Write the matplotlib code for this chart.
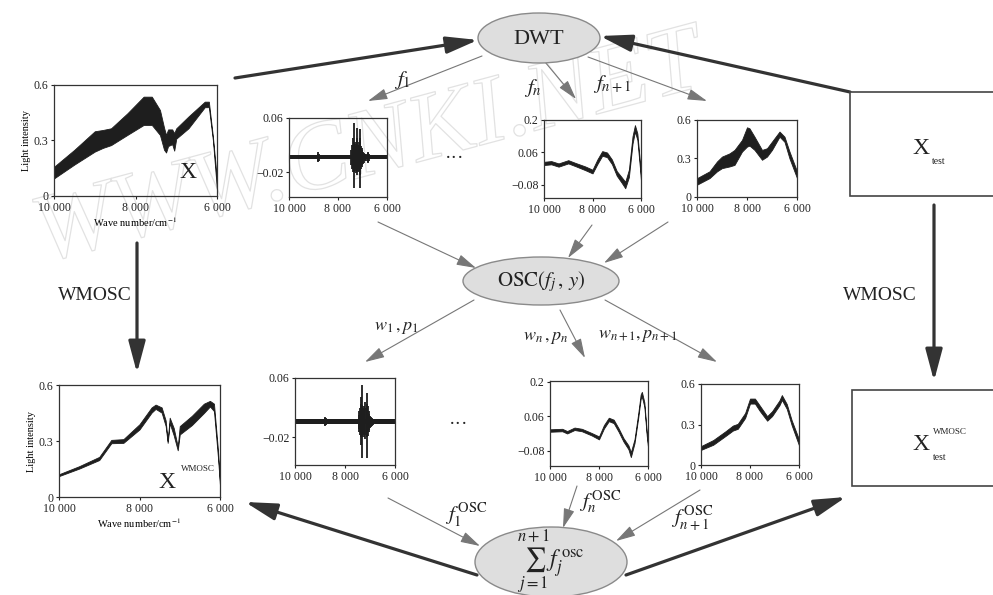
import matplotlib
matplotlib.use("Agg")
import matplotlib.pyplot as plt
from matplotlib.patches import Ellipse, Rectangle
import matplotlib.patheffects as pe

plt.rcParams['font.family'] = ['Liberation Serif', 'DejaVu Serif']
plt.rcParams['mathtext.fontset'] = 'stix'

W, H = 993, 595

# ---------------- data ----------------
xticks = [10000, 8000, 6000]
xtick_labels = ['10 000', '8 000', '6 000']

# X (raw spectra) band
x_wn = [10000, 9500, 9000, 8800, 8600, 8200, 7800, 7600, 7400, 7300, 7250, 7200, 7100, 7050, 7000, 6700, 6300, 6200, 6100, 6000]
x_hi = [0.158, 0.25, 0.35, 0.357, 0.366, 0.447, 0.537, 0.537, 0.465, 0.37, 0.33, 0.36, 0.36, 0.34, 0.366, 0.43, 0.51, 0.51, 0.32, 0.086]
x_lo = [0.095, 0.17, 0.24, 0.26, 0.275, 0.33, 0.384, 0.384, 0.33, 0.25, 0.235, 0.27, 0.28, 0.245, 0.31, 0.366, 0.48, 0.48, 0.30, 0.03]

# X^WMOSC band
xw_wn = [10000, 9500, 9000, 8700, 8400, 8000, 7700, 7600, 7450, 7350, 7300, 7250, 7150, 7050, 7000, 6700, 6400, 6250, 6150, 6050, 6000]
xw_hi = [0.122, 0.165, 0.215, 0.306, 0.31, 0.39, 0.48, 0.495, 0.48, 0.41, 0.30, 0.425, 0.37, 0.27, 0.38, 0.435, 0.50, 0.515, 0.50, 0.25, 0.08]
xw_lo = [0.112, 0.152, 0.198, 0.288, 0.29, 0.362, 0.452, 0.472, 0.452, 0.38, 0.29, 0.395, 0.33, 0.25, 0.335, 0.385, 0.45, 0.485, 0.46, 0.21, 0.06]

# f1 detail coefficients (top: DWT, bottom: after OSC)
f1_base_wn = [10000, 6000]
f1_base_lo = [-0.0012, -0.0012]
f1_base_hi = [0.0052, 0.0052]
f1_spk_wn = [8835, 8812, 8790, 7450, 7420, 7395, 7370, 7352, 7335, 7310, 7285, 7260, 7235, 7215, 7190, 7165, 7140, 7120, 7106, 7090, 7065, 7040, 7010, 6980, 6950, 6900, 6840, 6780, 6765, 6750]
f1_spk_hi = [0.007, 0.009, 0.007, 0.012, 0.02, 0.016, 0.03, 0.053, 0.025, 0.022, 0.018, 0.024, 0.03, 0.045, 0.02, 0.018, 0.024, 0.03, 0.043, 0.025, 0.018, 0.015, 0.012, 0.01, 0.008, 0.006, 0.006, 0.008, 0.009, 0.007]
f1_spk_lo = [-0.003, -0.005, -0.003, -0.01, -0.016, -0.014, -0.02, -0.044, -0.02, -0.018, -0.015, -0.022, -0.02, -0.025, -0.018, -0.016, -0.02, -0.025, -0.044, -0.02, -0.015, -0.012, -0.01, -0.008, -0.006, -0.004, -0.003, -0.005, -0.006, -0.004]

f1o_spk_wn = [8810, 8785, 8760, 7460, 7430, 7400, 7370, 7345, 7333, 7310, 7285, 7260, 7230, 7200, 7170, 7140, 7111, 7090, 7060, 7030, 7000, 6970, 6940, 6900]
f1o_spk_hi = [0.006, 0.008, 0.006, 0.01, 0.015, 0.02, 0.025, 0.035, 0.05, 0.024, 0.02, 0.018, 0.022, 0.028, 0.02, 0.025, 0.04, 0.022, 0.016, 0.012, 0.009, 0.008, 0.006, 0.005]
f1o_spk_lo = [-0.003, -0.004, -0.003, -0.008, -0.012, -0.016, -0.02, -0.03, -0.047, -0.02, -0.017, -0.015, -0.02, -0.022, -0.016, -0.02, -0.047, -0.018, -0.013, -0.01, -0.007, -0.006, -0.004, -0.003]

# fn approximation coefficients
fn_wn = [10000, 9700, 9400, 9000, 8700, 8300, 8000, 7800, 7600, 7400, 7200, 7000, 6800, 6650, 6500, 6350, 6250, 6150, 6050, 6000]
fn_hi = [0.020, 0.023, 0.013, 0.027, 0.015, 0.0, -0.014, 0.030, 0.066, 0.060, 0.030, -0.020, -0.046, -0.066, -0.014, 0.130, 0.178, 0.142, 0.026, -0.038]
fn_lo = [0.006, 0.009, -0.001, 0.013, 0.001, -0.016, -0.030, 0.010, 0.046, 0.040, 0.010, -0.040, -0.070, -0.094, -0.046, 0.098, 0.150, 0.114, 0.000, -0.062]

fno_wn = [10000, 9500, 9300, 9000, 8700, 8300, 8000, 7800, 7600, 7400, 7200, 7000, 6800, 6700, 6550, 6400, 6300, 6250, 6150, 6050, 6000]
fno_hi = [0.008, 0.010, 0.001, 0.015, 0.010, -0.007, -0.021, 0.025, 0.055, 0.047, 0.012, -0.028, -0.057, -0.085, -0.032, 0.072, 0.149, 0.160, 0.118, -0.004, -0.050]
fno_lo = [-0.002, 0.000, -0.009, 0.005, 0.000, -0.017, -0.033, 0.011, 0.041, 0.033, -0.002, -0.042, -0.073, -0.105, -0.048, 0.054, 0.131, 0.140, 0.100, -0.020, -0.064]

# fn+1 approximation coefficients
fn1_wn = [10000, 9500, 9200, 9000, 8700, 8500, 8200, 8000, 7900, 7700, 7400, 7200, 7000, 6700, 6500, 6300, 6000]
fn1_hi = [0.147, 0.20, 0.277, 0.315, 0.34, 0.367, 0.445, 0.543, 0.535, 0.47, 0.367, 0.38, 0.432, 0.51, 0.47, 0.354, 0.20]
fn1_lo = [0.096, 0.147, 0.20, 0.225, 0.238, 0.25, 0.354, 0.393, 0.40, 0.367, 0.29, 0.315, 0.367, 0.47, 0.43, 0.30, 0.147]

fn1o_wn = [10000, 9500, 9000, 8700, 8500, 8200, 8000, 7800, 7600, 7300, 7100, 6800, 6700, 6500, 6300, 6000]
fn1o_hi = [0.140, 0.185, 0.250, 0.292, 0.305, 0.385, 0.492, 0.492, 0.440, 0.362, 0.398, 0.478, 0.518, 0.452, 0.332, 0.190]
fn1o_lo = [0.112, 0.150, 0.215, 0.255, 0.268, 0.348, 0.455, 0.455, 0.400, 0.328, 0.362, 0.442, 0.482, 0.416, 0.295, 0.145]

# ---------------- figure ----------------
fig = plt.figure(figsize=(W / 100, H / 100), dpi=100)
ov = fig.add_axes([0, 0, 1, 1])
ov.set_xlim(0, W)
ov.set_ylim(H, 0)
ov.axis('off')

# watermark
ov.text(25, 262, 'WWW.CNKI.NET', fontsize=70, style='italic', rotation=15,
        ha='left', va='baseline', color=(1, 1, 1, 0), zorder=0.5,
        path_effects=[pe.withStroke(linewidth=0.9, foreground='#e2e2e2')])

def rect(x0, y0, x1, y1):
    return [x0 / W, 1 - y1 / H, (x1 - x0) / W, (y1 - y0) / H]

CURVE = '#1e1e1e'
TXT = '#222'

def small_axes(r, ylim, yticks, ylabels):
    ax = fig.add_axes(rect(*r))
    ax.patch.set_alpha(0)
    ax.set_xlim(10000, 6000)
    ax.set_ylim(*ylim)
    ax.set_xticks(xticks)
    ax.set_xticklabels(xtick_labels)
    ax.set_yticks(yticks)
    ax.set_yticklabels(ylabels)
    ax.tick_params(labelsize=8.5, length=2.5, width=0.8, pad=1.5, colors='#222')
    for s in ax.spines.values():
        s.set_linewidth(0.9)
        s.set_color('#333')
    return ax

# top-left: X
axA = small_axes((54, 85, 217, 196), (0, 0.6), [0, 0.3, 0.6], ['0', '0.3', '0.6'])
axA.fill_between(x_wn, x_lo, x_hi, color=CURVE, lw=0.6, edgecolor=CURVE)
axA.text(0.82, 0.16, 'X', transform=axA.transAxes, fontsize=17, ha='center', color=TXT)
axA.set_ylabel('Light intensity', fontsize=7.5, labelpad=2)
axA.set_xlabel('Wave number/cm$^{-1}$', fontsize=7.5, labelpad=1)

# top f1
axB = small_axes((289, 118, 387, 197), (-0.057, 0.06), [-0.02, 0.06], ['\u22120.02', '0.06'])
axB.fill_between(f1_base_wn, f1_base_lo, f1_base_hi, color=CURVE, lw=0)
axB.vlines(f1_spk_wn, f1_spk_lo, f1_spk_hi, color=CURVE, lw=1.3)

# top fn
axC = small_axes((544, 120, 641, 198), (-0.136, 0.2), [-0.08, 0.06, 0.2], ['\u22120.08', '0.06', '0.2'])
axC.fill_between(fn_wn, fn_lo, fn_hi, color=CURVE, lw=0.6, edgecolor=CURVE)

# top fn+1
axD = small_axes((697, 120, 797, 197), (0, 0.6), [0, 0.3, 0.6], ['0', '0.3', '0.6'])
axD.fill_between(fn1_wn, fn1_lo, fn1_hi, color=CURVE, lw=0.6, edgecolor=CURVE)

# bottom-left: X^WMOSC
axE = small_axes((59, 385, 220, 497), (0, 0.6), [0, 0.3, 0.6], ['0', '0.3', '0.6'])
axE.fill_between(xw_wn, xw_lo, xw_hi, color=CURVE, lw=0.6, edgecolor=CURVE)
axE.text(0.67, 0.08, 'X', transform=axE.transAxes, fontsize=17, ha='center', va='baseline', color=TXT)
axE.text(0.755, 0.25, 'WMOSC', transform=axE.transAxes, fontsize=6.5, ha='left', va='center', color=TXT)
axE.set_ylabel('Light intensity', fontsize=7.5, labelpad=2)
axE.set_xlabel('Wave number/cm$^{-1}$', fontsize=7.5, labelpad=1)

# bottom f1 OSC
axF = small_axes((295, 378, 395, 465), (-0.057, 0.06), [-0.02, 0.06], ['\u22120.02', '0.06'])
axF.fill_between(f1_base_wn, f1_base_lo, f1_base_hi, color=CURVE, lw=0)
axF.vlines(f1o_spk_wn, f1o_spk_lo, f1o_spk_hi, color=CURVE, lw=1.3)

# bottom fn OSC
axG = small_axes((550, 381, 648, 466), (-0.141, 0.204), [-0.08, 0.06, 0.2], ['\u22120.08', '0.06', '0.2'])
axG.fill_between(fno_wn, fno_lo, fno_hi, color=CURVE, lw=0.6, edgecolor=CURVE)

# bottom fn+1 OSC
axH = small_axes((701, 384, 799, 465), (0, 0.6), [0, 0.3, 0.6], ['0', '0.3', '0.6'])
axH.fill_between(fn1o_wn, fn1o_lo, fn1o_hi, color=CURVE, lw=0.6, edgecolor=CURVE)

# ---------------- diagram nodes ----------------
EFILL, EEDGE = '#dedede', '#8a8a8a'
ov.add_patch(Ellipse((539, 38), 122, 50, facecolor=EFILL, edgecolor=EEDGE, lw=1.0, zorder=3))
ov.text(539, 39, 'DWT', fontsize=16, ha='center', va='center', zorder=4, color=TXT)

ov.add_patch(Ellipse((541, 281), 156, 48, facecolor=EFILL, edgecolor=EEDGE, lw=1.0, zorder=3))
ov.text(541, 282, r'$\mathrm{OSC}(f_{j}\,,\,y)$', fontsize=15, ha='center', va='center', zorder=4, color=TXT)

ov.add_patch(Ellipse((551, 562), 152, 70, facecolor=EFILL, edgecolor=EEDGE, lw=1.0, zorder=3))
ov.text(551, 562, r'$\sum_{j=1}^{n+1} f_j^{\,\mathrm{osc}}$', fontsize=17, ha='center', va='center', zorder=4, color=TXT)

ov.add_patch(Rectangle((850, 92), 160, 104, facecolor='white', edgecolor='#444', lw=1.2, zorder=3))
ov.text(921, 148, 'X', fontsize=17, ha='center', va='center', zorder=4, color=TXT)
ov.text(932, 162, 'test', fontsize=7, ha='left', va='center', zorder=4, color=TXT)

ov.add_patch(Rectangle((852, 390), 160, 96, facecolor='white', edgecolor='#444', lw=1.2, zorder=3))
ov.text(921, 444, 'X', fontsize=17, ha='center', va='center', zorder=4, color=TXT)
ov.text(933, 432, 'WMOSC', fontsize=6.5, ha='left', va='center', zorder=4, color=TXT)
ov.text(933, 458, 'test', fontsize=7, ha='left', va='center', zorder=4, color=TXT)

# ---------------- arrows ----------------
def arrow(tail, head, thick):
    if thick:
        props = dict(arrowstyle='-|>,head_length=1.2,head_width=0.32', lw=2.3, color='#333',
                     shrinkA=0, shrinkB=0, mutation_scale=16)
    else:
        props = dict(arrowstyle='-|>,head_length=1.0,head_width=0.28', lw=0.8, color='#777',
                     shrinkA=0, shrinkB=0, mutation_scale=12)
    ov.annotate('', xy=head, xytext=tail, arrowprops=props, zorder=2)

arrow((235, 78), (478, 40), True)
arrow((850, 92), (600, 36), True)
arrow((137, 243), (137, 373), True)
arrow((934, 205), (934, 381), True)
arrow((477, 575), (245, 502), True)
arrow((626, 575), (846, 497), True)

arrow((482, 56), (368, 101), False)
arrow((545, 62), (576, 99), False)
arrow((588, 57), (707, 101), False)
arrow((378, 222), (476, 268), False)
arrow((592, 225), (568, 258), False)
arrow((668, 222), (604, 263), False)
arrow((474, 300), (365, 362), False)
arrow((560, 310), (585, 358), False)
arrow((605, 300), (717, 362), False)
arrow((388, 498), (480, 546), False)
arrow((577, 486), (563, 528), False)
arrow((700, 490), (616, 541), False)

# ---------------- labels ----------------
ov.text(402, 80, r'$f_{1}$', fontsize=15, ha='center', va='center', color=TXT)
ov.text(533, 88, r'$f_{n}$', fontsize=15, ha='center', va='center', color=TXT)
ov.text(612, 84, r'$f_{n+1}$', fontsize=15, ha='center', va='center', color=TXT)

ov.text(396, 328, r'$w_{1}\,,p_{1}$', fontsize=13, ha='center', va='center', color=TXT)
ov.text(546, 338, r'$w_{n}\,,p_{n}$', fontsize=13, ha='center', va='center', color=TXT)
ov.text(638, 335, r'$w_{n+1},p_{n+1}$', fontsize=13, ha='center', va='center', color=TXT)

ov.text(466, 515, r'$f_{1}^{\,\mathrm{OSC}}$', fontsize=15, ha='center', va='center', color=TXT)
ov.text(600, 502, r'$f_{n}^{\,\mathrm{OSC}}$', fontsize=15, ha='center', va='center', color=TXT)
ov.text(692, 519, r'$f_{n+1}^{\,\mathrm{OSC}}$', fontsize=15, ha='center', va='center', color=TXT)

ov.text(455, 158, '\u00b7\u00b7\u00b7', fontsize=14, ha='center', va='center', color=TXT)
ov.text(459, 425, '\u00b7\u00b7\u00b7', fontsize=14, ha='center', va='center', color=TXT)

ov.text(95, 296, 'WMOSC', fontsize=14, ha='center', va='center', color=TXT)
ov.text(880, 296, 'WMOSC', fontsize=14, ha='center', va='center', color=TXT)

fig.savefig('out.png', dpi=100, facecolor='white')
